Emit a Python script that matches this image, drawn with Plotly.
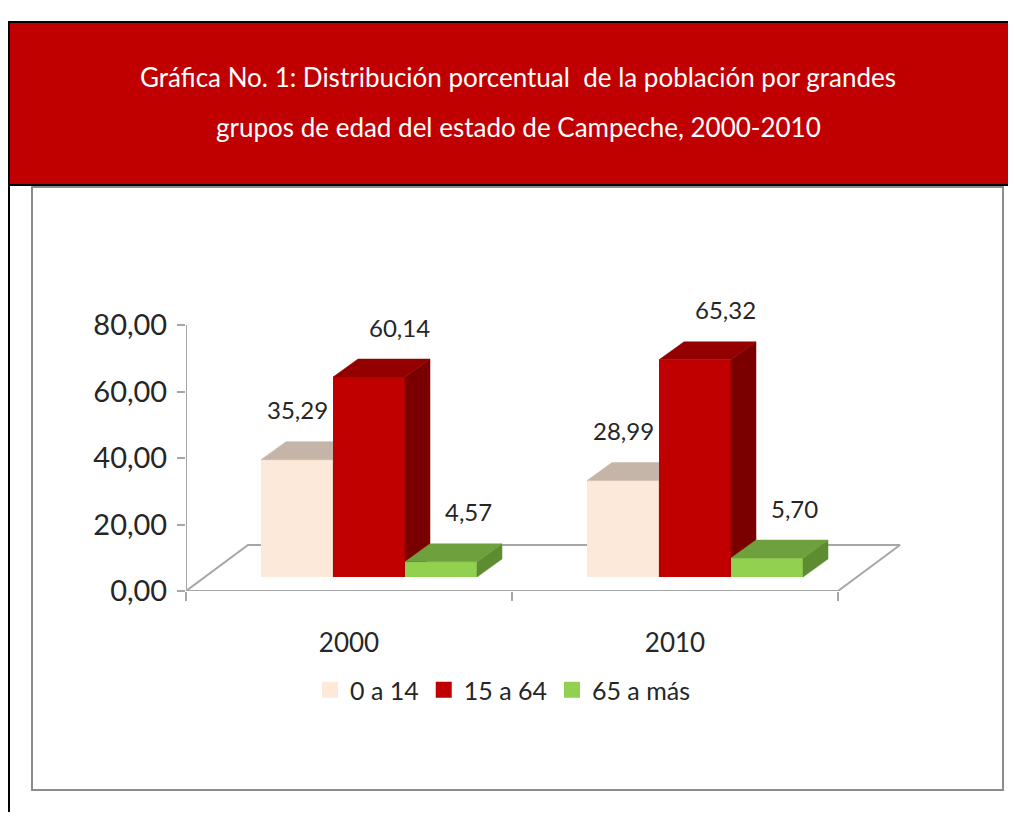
import plotly.graph_objects as go

# ---------------- data ----------------
categories = ["2000", "2010"]
series_names = ["0 a 14", "15 a 64", "65 a más"]
values_0_14 = [35.29, 28.99]
values_15_64 = [60.14, 65.32]
values_65_mas = [4.57, 5.70]
y_tick_values = [0, 20, 40, 60, 80]
y_tick_labels = ["0,00", "20,00", "40,00", "60,00", "80,00"]
title_lines = [
    "Gráfica No. 1: Distribución porcentual  de la población por grandes",
    "grupos de edad del estado de Campeche, 2000-2010",
]

series_values = [values_0_14, values_15_64, values_65_mas]

# ---------------- style ----------------
front_colors = ["#FDE9D9", "#C00000", "#92D050"]
top_colors = ["#C4B5A8", "#940000", "#6FA03E"]
side_colors = ["#B3A596", "#7A0000", "#5E8C30"]
label_dx_px = [0, 30, 27]
label_dy_px = 50
FONT = "Lato"
TXT = "#262626"
GRID = "#A6A6A6"

OFF = 8                      # page body margin
W, H = 1016 - 2 * OFF, 820 - 2 * OFF
# plot area in page pixels
PL, PR, PT, PB = 186, 960, 290, 591
L, R, T, B = PL - OFF, PR - OFF, PT - OFF, PB - OFF
PXU = 326.0     # px per category unit
PYU = 3.325     # px per value unit
XR = [-0.5, -0.5 + (R - L) / PXU]
YR = [0, (B - T) / PYU]

FDX, FDY = 62 / PXU, 46 / PYU       # floor depth
BDX, BDY = 20 / PXU, 14 / PYU       # bar plane shift
DDX, DDY = 25 / PXU, 18 / PYU       # bar depth
BW = 72 / PXU
n_s = len(series_values)
offsets = [(i - (n_s - 1) / 2) * BW for i in range(n_s)]


def px_x(p):  # page px -> paper
    return (p - OFF - L) / (R - L)


def px_y(p):
    return (B - (p - OFF)) / (B - T)


fig = go.Figure()

# floor (base axes)
n_c = len(categories)
x_front_l, x_front_r = -0.5, n_c - 0.5
fig.add_trace(go.Scatter(
    x=[x_front_l, x_front_l + FDX, x_front_r + FDX, x_front_r, x_front_l],
    y=[0, FDY, FDY, 0, 0],
    mode="lines", line=dict(color=GRID, width=2), hoverinfo="skip",
    showlegend=False, cliponaxis=False))
# value axis line
fig.add_trace(go.Scatter(
    x=[x_front_l, x_front_l], y=[0, max(y_tick_values)],
    mode="lines", line=dict(color=GRID, width=2), hoverinfo="skip",
    showlegend=False, cliponaxis=False))

annotations = []
for i, (vals, name) in enumerate(zip(series_values, series_names)):
    ax = str(i + 2)
    xa, ya = "x" + ax, "y" + ax
    xs = [g + offsets[i] + BDX for g in range(n_c)]
    fig.add_trace(go.Bar(
        x=xs, y=vals, base=BDY, width=BW, name=name, showlegend=False,
        marker=dict(color=front_colors[i], line=dict(width=0)),
        xaxis=xa, yaxis=ya, hovertemplate=name + ": %{y:.2f}<extra></extra>"))
    tx, ty, sx, sy = [], [], [], []
    for g, v in enumerate(vals):
        x0 = xs[g] - BW / 2
        x1 = xs[g] + BW / 2
        yt = BDY + v
        tx += [x0, x1, x1 + DDX, x0 + DDX, x0, None]
        ty += [yt, yt, yt + DDY, yt + DDY, yt, None]
        sx += [x1, x1, x1 + DDX, x1 + DDX, x1, None]
        sy += [BDY, yt, yt + DDY, BDY + DDY, BDY, None]
        annotations.append(dict(
            x=xs[g] + label_dx_px[i] / PXU, y=yt + label_dy_px / PYU,
            xref=xa, yref=ya, text=f"{v:.2f}".replace(".", ","),
            showarrow=False, font=dict(family=FONT, size=24, color=TXT),
            xanchor="center", yanchor="middle"))
    fig.add_trace(go.Scatter(
        x=sx, y=sy, mode="lines", fill="toself", fillcolor=side_colors[i],
        line=dict(color=side_colors[i], width=0.5), hoverinfo="skip",
        showlegend=False, xaxis=xa, yaxis=ya))
    fig.add_trace(go.Scatter(
        x=tx, y=ty, mode="lines", fill="toself", fillcolor=top_colors[i],
        line=dict(color=top_colors[i], width=0.5), hoverinfo="skip",
        showlegend=False, xaxis=xa, yaxis=ya))
    # legend entry with a larger square swatch
    fig.add_trace(go.Scatter(
        x=[None], y=[None], mode="markers", name=name,
        marker=dict(symbol="square", size=19, color=front_colors[i]),
        xaxis=xa, yaxis=ya, hoverinfo="skip"))

for k, line in enumerate(title_lines):
    annotations.append(dict(
        x=px_x(518), y=px_y(77 + 50 * k), xref="paper", yref="paper",
        text=line, showarrow=False, font=dict(family=FONT, size=26, color="white"),
        xanchor="center", yanchor="middle"))

shapes = [
    dict(type="rect", xref="paper", yref="paper", x0=px_x(8), x1=px_x(1024),
         y0=px_y(22), y1=px_y(185), fillcolor="#C00000", line=dict(width=0), layer="below"),
    dict(type="line", xref="paper", yref="paper", x0=px_x(8), x1=px_x(1024),
         y0=px_y(22), y1=px_y(22), line=dict(color="black", width=2)),
    dict(type="line", xref="paper", yref="paper", x0=px_x(8), x1=px_x(1024),
         y0=px_y(185), y1=px_y(185), line=dict(color="black", width=2)),
    dict(type="line", xref="paper", yref="paper", x0=px_x(9), x1=px_x(9),
         y0=px_y(22), y1=px_y(830), line=dict(color="black", width=2)),
    dict(type="rect", xref="paper", yref="paper", x0=px_x(32), x1=px_x(1003),
         y0=px_y(187), y1=px_y(790), line=dict(color="#8C8C8C", width=2), layer="below"),
]

layout = dict(
    width=W, height=H,
    margin=dict(l=L, r=W - R, t=T, b=H - B, pad=0),
    paper_bgcolor="white", plot_bgcolor="rgba(0,0,0,0)",
    barmode="overlay", showlegend=True,
    font=dict(family=FONT, color=TXT),
    xaxis=dict(range=XR, tickvals=list(range(n_c)), ticktext=categories,
               ticks="", showgrid=False, zeroline=False, showline=False,
               tickfont=dict(size=26, color=TXT), ticklabelstandoff=34,
               minor=dict(tickvals=[x_front_l + j for j in range(n_c + 1)],
                          ticks="outside", ticklen=9, tickwidth=2, tickcolor=GRID,
                          showgrid=False)),
    yaxis=dict(range=YR, tickvals=y_tick_values, ticktext=y_tick_labels,
               ticks="outside", ticklen=8, tickwidth=2, tickcolor=GRID,
               showgrid=False, zeroline=False, showline=False,
               tickfont=dict(size=29, color=TXT), ticklabelstandoff=4),
    legend=dict(orientation="h", x=px_x(503), y=px_y(690), xanchor="center",
                yanchor="middle", font=dict(size=25, color=TXT, family=FONT),
                traceorder="normal", itemwidth=30, itemsizing="trace"),
    annotations=annotations, shapes=shapes,
)
for i in range(n_s):
    k = str(i + 2)
    layout["xaxis" + k] = dict(range=XR, overlaying="x", visible=False)
    layout["yaxis" + k] = dict(range=YR, overlaying="y", visible=False)

fig.update_layout(**layout)
fig.write_html("out.html")
